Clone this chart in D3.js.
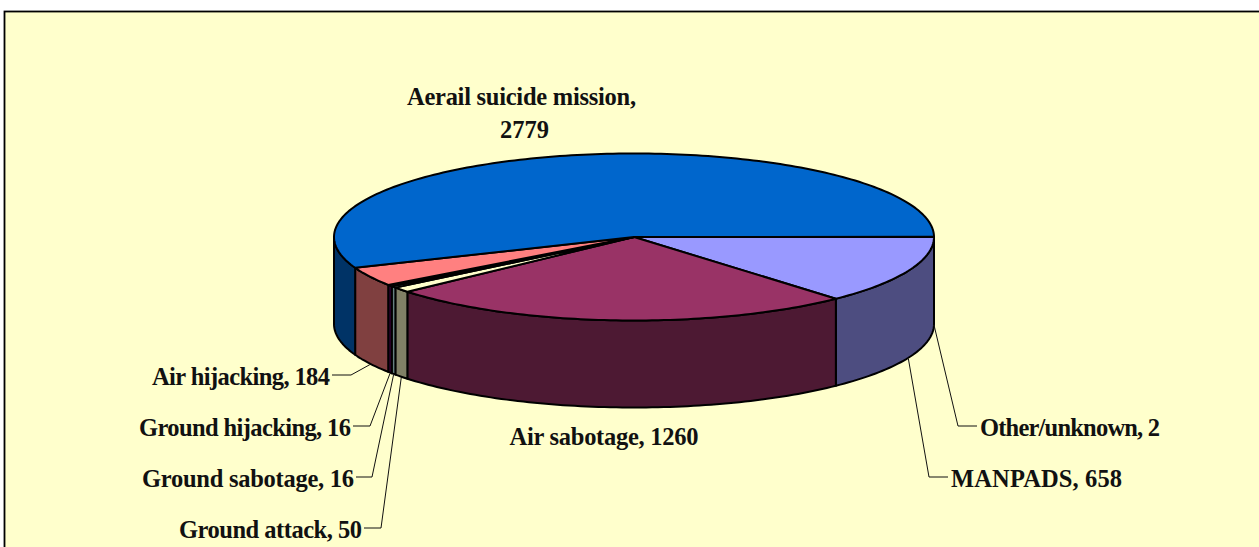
<!DOCTYPE html>
<html><head><meta charset="utf-8">
<script src="https://cdn.jsdelivr.net/npm/d3@7/dist/d3.min.js"></script>
<style>html,body{margin:0;padding:0;background:#fff;overflow:hidden}svg{display:block}
text{font-family:"Liberation Serif","Times New Roman",serif;font-weight:bold;font-size:24.5px;fill:#111}</style>
</head><body><svg id="c" width="1259" height="547"></svg>
<script>
// Data, clockwise from the east point of the pie
const categories = ["MANPADS","Air sabotage","Ground attack","Ground sabotage","Ground hijacking","Air hijacking","Aerail suicide mission","Other/unknown"];
const values = [658,1260,50,16,16,184,2779,2];
const topColors = ["#9999FF","#993366","#FFFFCC","#CCFFFF","#660066","#FF8080","#0066CC","#CCCCFF"];
const wallColors = ["#4D4D80","#4D1933","#808066","#668080","#330033","#804040","#003366","#666680"];

// Layout
const cx=634, cy=237, rx=300, ry=83.5, depth=87;
const labels = [
 {i:0,x:951,y:487,a:"start",text:["MANPADS, 658"],w:[171],leader:[[929,477],[948,477]]},
 {i:1,x:604,y:445,a:"middle",text:["Air sabotage, 1260"],w:[189]},
 {i:2,x:362,y:538,a:"end",text:["Ground attack, 50"],w:[183],leader:[[381,528],[364,528]]},
 {i:3,x:354,y:487,a:"end",text:["Ground sabotage, 16"],w:[212],leader:[[372,477],[356,477]]},
 {i:4,x:351,y:436,a:"end",text:["Ground hijacking, 16"],w:[212],leader:[[370,426],[353,426]]},
 {i:5,x:330,y:385,a:"end",text:["Air hijacking, 184"],w:[178],leader:[[351,375],[332,375]]},
 {i:6,x:521.5,y:105,a:"middle",text:["Aerail suicide mission,","2779"],w:[229,49],dx:[0,3]},
 {i:7,x:980,y:436,a:"start",text:["Other/unknown, 2"],w:[180],leader:[[958,426],[977,426]]}
];

const svg=d3.select("#c");
svg.append("rect").attr("x",4.5).attr("y",11.5).attr("width",1300).attr("height",600)
  .attr("fill","#FFFFCC").attr("stroke","#000").attr("stroke-width",1.8);

// Angles measured clockwise from east
const pie=d3.pie().value(d=>d).sort(null).startAngle(0).endAngle(2*Math.PI);
const arcs=pie(values);
const px=a=>cx+rx*Math.cos(a), py=a=>cy+ry*Math.sin(a);
const line=d3.line();
function sample(a0,a1){const n=Math.max(2,Math.ceil((a1-a0)/0.02));return d3.range(n+1).map(k=>a0+(a1-a0)*k/n);}

// Walls (only the front half is visible)
arcs.forEach((d,i)=>{
  const a0=Math.max(0,d.startAngle), a1=Math.min(Math.PI,d.endAngle);
  if(a1<=a0) return;
  const s=sample(a0,a1);
  const pts=s.map(a=>[px(a),py(a)]).concat(s.slice().reverse().map(a=>[px(a),py(a)+depth]));
  svg.append("path").attr("d",line(pts)+"Z").attr("fill",wallColors[i])
    .attr("stroke","#000").attr("stroke-width",2).attr("stroke-linejoin","round");
});
// Top faces
arcs.forEach((d,i)=>{
  const pts=[[cx,cy]].concat(sample(d.startAngle,d.endAngle).map(a=>[px(a),py(a)]));
  svg.append("path").attr("d",line(pts)+"Z").attr("fill",topColors[i])
    .attr("stroke","#000").attr("stroke-width",2).attr("stroke-linejoin","round");
});
// Leaders start on the wall's lower rim at each slice's middle angle
labels.filter(l=>l.leader).forEach(l=>{
  const d=arcs[l.i];
  let m=(d.startAngle+d.endAngle)/2; if(m>Math.PI) m=0;
  const pts=[[px(m),py(m)+depth+1]].concat(l.leader);
  svg.append("path").attr("d",line(pts)).attr("fill","none").attr("stroke","#111").attr("stroke-width",1);
});
// Labels
labels.forEach(l=>{
  l.text.forEach((t,k)=>{
    svg.append("text").attr("x",l.x+(l.dx?l.dx[k]:0)).attr("y",l.y+k*33).attr("text-anchor",l.a)
      .attr("textLength",l.w[k]).attr("lengthAdjust","spacing").text(t);
  });
});
</script></body></html>
